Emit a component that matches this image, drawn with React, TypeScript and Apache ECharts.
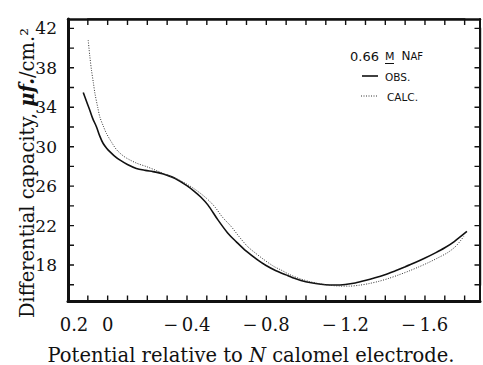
import React, { useEffect, useRef } from "react";
import * as echarts from "echarts";

// Observed differential capacity (solid curve)
const obsPotential = [
  0.123, 0.105, 0.09, 0.075, 0.056, 0.04, 0.023, 0.005, -0.011, -0.035, -0.061, -0.1, -0.145,
  -0.19, -0.229, -0.265, -0.296, -0.339, -0.4, -0.439, -0.47, -0.506, -0.556, -0.606, -0.65,
  -0.7, -0.757, -0.8, -0.85, -0.9, -0.95, -1.0, -1.05, -1.1, -1.15, -1.2, -1.25, -1.3, -1.35,
  -1.4, -1.45, -1.5, -1.55, -1.6, -1.65, -1.7, -1.75, -1.814,
];
const obsCapacity = [
  35.5, 34.5, 33.7, 32.85, 32.0, 31.1, 30.35, 29.85, 29.5, 29.05, 28.66, 28.2, 27.8,
  27.6, 27.47, 27.32, 27.14, 26.8, 26.05, 25.45, 24.9, 24.1, 22.6, 21.25, 20.35,
  19.4, 18.52, 17.95, 17.42, 17.0, 16.6, 16.3, 16.12, 16.0, 15.97, 16.03, 16.18, 16.42, 16.7,
  17.02, 17.4, 17.8, 18.22, 18.68, 19.18, 19.72, 20.38, 21.4,
];

// Calculated differential capacity (dotted curve)
const calcPotential = [
  0.098, 0.09, 0.081, 0.072, 0.064, 0.05, 0.039, 0.02, 0.006, -0.02, -0.045, -0.08, -0.112,
  -0.15, -0.196, -0.25, -0.3, -0.35, -0.4, -0.45, -0.5, -0.54, -0.58, -0.624, -0.665, -0.707,
  -0.75, -0.791, -0.84, -0.875, -0.92, -0.97, -1.02, -1.07, -1.12, -1.17, -1.22, -1.27, -1.32,
  -1.37, -1.42, -1.47, -1.52, -1.57, -1.62, -1.67, -1.72, -1.76, -1.798,
];
const calcCapacity = [
  40.8, 39.2, 37.7, 36.5, 35.4, 34.0, 33.0, 32.0, 31.35, 30.45, 29.7, 29.05, 28.66,
  28.3, 27.98, 27.55, 27.12, 26.72, 26.2, 25.55, 24.75, 23.93, 22.85, 21.9, 20.85, 19.87,
  19.15, 18.52, 17.85, 17.5, 17.02, 16.62, 16.32, 16.1, 15.95, 15.87, 15.86, 15.95, 16.12,
  16.35, 16.65, 17.0, 17.38, 17.8, 18.25, 18.75, 19.3, 19.95, 20.9,
];

// Axis ranges, labelled ticks and tick marks on the frame
const xRange = [-1.88, 0.2];
const yRange = [14.3, 42.95];
const xTickLabels = [0.2, 0, -0.4, -0.8, -1.2, -1.6];
const yTickLabels = [18, 22, 26, 30, 34, 38, 42];
const xTickMarks = [
  0.1, 0, -0.1, -0.2, -0.3, -0.4, -0.5, -0.6, -0.7, -0.8, -0.9, -1.0, -1.1, -1.2, -1.3, -1.4,
  -1.5, -1.6, -1.7, -1.8,
];
const yTickMarks = [16, 18, 20, 22, 24, 26, 28, 30, 32, 34, 36, 38, 40, 42];

const SERIF = "'DejaVu Serif', 'Liberation Serif', serif";
const SANS = "'DejaVu Sans', 'Liberation Sans', sans-serif";
const INK = "#111";
const TICK_LEN = 6;

const GRID = { left: 68, top: 19, right: 2.5, bottom: 63.5 };
const W = 483;
const H = 365;

const zip = (xs: number[], ys: number[]) => xs.map((x, i) => [x, ys[i]]);

const fmtX = (v: number) => {
  const r = Math.round(v * 10) / 10;
  if (Math.abs(v - r) > 1e-6) return "";
  if (!xTickLabels.some((t) => Math.abs(t - r) < 1e-6)) return "";
  if (Math.abs(r) < 1e-6) return "0";
  if (r > 0) return "{first|" + r.toFixed(1) + "}";
  return "\u2212\u2009" + Math.abs(r).toFixed(1);
};

const fmtY = (v: number) => {
  const r = Math.round(v);
  if (Math.abs(v - r) > 1e-6) return "";
  return yTickLabels.includes(r) ? String(r) : "";
};

// Titles and the legend block
const staticGraphics = [
  {
    type: "text",
    x: 251,
    y: 355,
    style: {
      text: "{r|Potential relative to }{i|N}{r| calomel electrode.}",
      align: "center",
      verticalAlign: "middle",
      rich: {
        r: { fontFamily: SERIF, fontSize: 19.5, fill: INK },
        i: { fontFamily: SERIF, fontSize: 19.5, fontStyle: "italic", fill: INK },
      },
    },
  },
  {
    type: "text",
    x: 27,
    y: 173,
    rotation: Math.PI / 2,
    style: {
      text: "{r|Differential capacity, }{b|\u03bcf.}{r|/cm.\u00b2}",
      align: "center",
      verticalAlign: "middle",
      rich: {
        r: { fontFamily: SERIF, fontSize: 19.5, fill: INK },
        b: { fontFamily: SERIF, fontSize: 19.5, fontStyle: "italic", fontWeight: "bold", fill: INK },
      },
    },
  },
  {
    type: "text",
    x: 350,
    y: 56,
    style: { text: "0.66", fontFamily: SANS, fontSize: 13, fill: INK, verticalAlign: "middle" },
  },
  {
    type: "text",
    x: 385,
    y: 56,
    style: { text: "M", fontFamily: SANS, fontSize: 11, fill: INK, verticalAlign: "middle" },
  },
  {
    type: "line",
    shape: { x1: 385, y1: 63.5, x2: 394, y2: 63.5 },
    style: { stroke: INK, lineWidth: 1 },
  },
  {
    type: "text",
    x: 401.5,
    y: 56,
    style: {
      text: "{n|N}{s|AF}",
      verticalAlign: "middle",
      rich: {
        n: { fontFamily: SANS, fontSize: 12, fill: INK },
        s: { fontFamily: SANS, fontSize: 10, fill: INK },
      },
    },
  },
  {
    type: "line",
    shape: { x1: 362, y1: 76, x2: 378, y2: 76 },
    style: { stroke: INK, lineWidth: 1.6 },
  },
  {
    type: "text",
    x: 385,
    y: 76.5,
    style: { text: "OBS.", fontFamily: SANS, fontSize: 10.5, fill: INK, verticalAlign: "middle" },
  },
  {
    type: "line",
    shape: { x1: 361, y1: 96, x2: 378, y2: 96 },
    style: { stroke: "#333", lineWidth: 1, lineDash: [1, 1.5] },
  },
  {
    type: "text",
    x: 387,
    y: 96.5,
    style: { text: "CALC.", fontFamily: SANS, fontSize: 10.5, fill: INK, verticalAlign: "middle" },
  },
];

// Linear map from a data value to pixels across the frame
const toPx = (v: number, range: number[], start: number, end: number) =>
  start + ((v - range[0]) / (range[1] - range[0])) * (end - start);

// A comb: one polyline running along an edge with an inward spike at every tick
const comb = (positions: number[], edge: number, dir: number, vertical: boolean) => {
  const pts: number[][] = [];
  positions.forEach((p) => {
    if (vertical) {
      pts.push([p, edge], [p, edge + dir * TICK_LEN], [p, edge]);
    } else {
      pts.push([edge, p], [edge + dir * TICK_LEN, p], [edge, p]);
    }
  });
  return {
    type: "polyline",
    z: 50,
    shape: { points: pts },
    style: { stroke: INK, lineWidth: 1.4, fill: null },
  };
};

export default function App() {
  const ref = useRef<HTMLDivElement>(null);

  useEffect(() => {
    if (!ref.current) return;
    const chart = echarts.init(ref.current, undefined, { renderer: "svg" });

    const baseX = () => ({
      type: "value" as const,
      min: xRange[0],
      max: xRange[1],
      inverse: true,
      splitNumber: 21,
      minInterval: 0.1,
      maxInterval: 0.1,
      splitLine: { show: false },
      axisTick: { show: false },
    });
    const baseY = () => ({
      type: "value" as const,
      min: yRange[0],
      max: yRange[1],
      splitNumber: 14,
      minInterval: 2,
      maxInterval: 2,
      splitLine: { show: false },
      axisTick: { show: false },
    });

    const left = GRID.left;
    const right = W - GRID.right;
    const top = GRID.top;
    const bottom = H - GRID.bottom;

    const xs = xTickMarks.map((v) => toPx(v, [xRange[1], xRange[0]], left, right));
    const ys = yTickMarks.map((v) => toPx(v, yRange, bottom, top));

    const ticks = [
      comb(xs, bottom, -1, true),
      comb(xs, top, 1, true),
      comb(ys, left, 1, false),
      comb(ys, right, -1, false),
    ];

    chart.setOption({
      animation: false,
      backgroundColor: "#fff",
      grid: { ...GRID, containLabel: false },
      xAxis: [
        {
          ...baseX(),
          position: "bottom",
          axisLine: { show: true, onZero: false, lineStyle: { color: INK, width: 3 } },
          axisLabel: {
            show: true,
            margin: 14,
            color: INK,
            fontFamily: SERIF,
            fontSize: 18,
            formatter: fmtX,
            rich: { first: { fontFamily: SERIF, fontSize: 18, color: INK, padding: [0, 0, 0, 12] } },
          },
        },
        {
          ...baseX(),
          position: "top",
          axisLine: { show: true, onZero: false, lineStyle: { color: INK, width: 2.5 } },
          axisLabel: { show: false },
        },
      ],
      yAxis: [
        {
          ...baseY(),
          position: "left",
          axisLine: { show: true, onZero: false, lineStyle: { color: INK, width: 3 } },
          axisLabel: {
            show: true,
            margin: 11,
            color: INK,
            fontFamily: SERIF,
            fontSize: 17,
            formatter: fmtY,
          },
        },
        {
          ...baseY(),
          position: "right",
          axisLine: { show: true, onZero: false, lineStyle: { color: INK, width: 2 } },
          axisLabel: { show: false },
        },
      ],
      series: [
        {
          name: "OBS.",
          type: "line",
          data: zip(obsPotential, obsCapacity),
          showSymbol: false,
          smooth: 0.3,
          lineStyle: { color: INK, width: 1.6 },
        },
        {
          name: "CALC.",
          type: "line",
          data: zip(calcPotential, calcCapacity),
          showSymbol: false,
          smooth: 0.3,
          lineStyle: { color: "#333", width: 1, type: [1, 1.5] },
        },
      ],
      graphic: [...ticks, ...staticGraphics],
    });

    return () => chart.dispose();
  }, []);

  return (
    <div
      ref={ref}
      style={{ position: "absolute", left: 0, top: 0, width: W, height: H, background: "#fff" }}
    />
  );
}
